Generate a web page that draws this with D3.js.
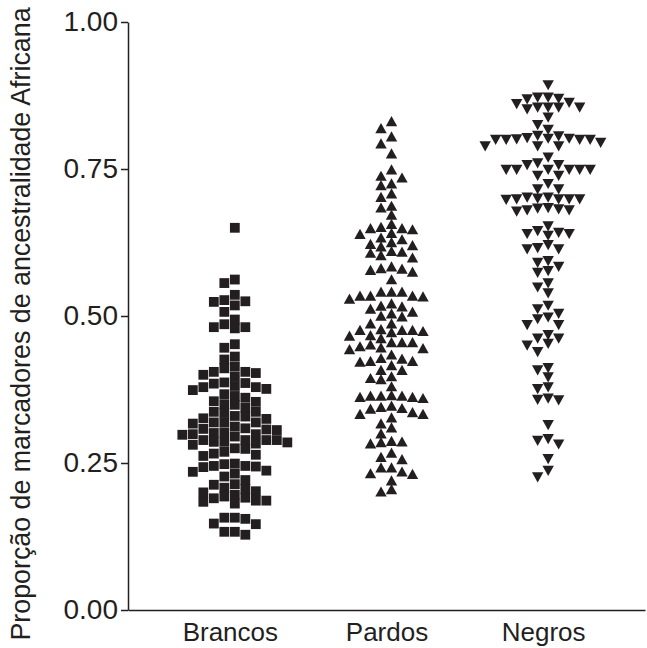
<!DOCTYPE html>
<html lang="pt">
<head>
<meta charset="UTF-8">
<title>Ancestralidade Africana</title>
<script src="https://cdn.jsdelivr.net/npm/d3@7"></script>
<style>
  body { margin: 0; background: #fff; }
  text { font-family: Arial, "Liberation Sans", sans-serif; fill: #231f20; }
</style>
</head>
<body>
<svg id="vis" width="647" height="648"></svg>
<script>
// valores
var categories = ["Brancos", "Pardos", "Negros"];
var yTicks = [0, 0.25, 0.5, 0.75, 1];
var yTitle = "Proporção de marcadores de ancestralidade Africana";

var brancos = [0.650, 0.562, 0.556, 0.536, 0.527, 0.525, 0.524, 0.518, 0.507, 0.494, 0.486, 0.481, 0.481, 0.479,
  0.452, 0.446, 0.431, 0.426,
  0.414, 0.411, 0.405, 0.405, 0.403, 0.400, 0.397,
  0.387, 0.386, 0.385, 0.381, 0.379, 0.379, 0.376, 0.374,
  0.367, 0.364, 0.361,
  0.355, 0.354, 0.350, 0.349, 0.344,
  0.337, 0.337, 0.335, 0.330, 0.329, 0.326, 0.325,
  0.319, 0.319, 0.319, 0.317, 0.312, 0.309, 0.308, 0.307, 0.306,
  0.302, 0.301, 0.299, 0.299, 0.298, 0.295,
  0.289, 0.289, 0.289, 0.289, 0.286, 0.286, 0.285, 0.283, 0.281, 0.275,
  0.274, 0.269, 0.266, 0.264, 0.262,
  0.249, 0.248, 0.245, 0.245, 0.244, 0.243, 0.237, 0.235, 0.232, 0.227,
  0.221, 0.214, 0.213, 0.208, 0.206, 0.202, 0.200, 0.186,
  0.196, 0.193, 0.191, 0.190, 0.186, 0.184, 0.181,
  0.157, 0.157, 0.155, 0.147, 0.146, 0.133, 0.133, 0.128];

var pardos = [0.830, 0.818, 0.804, 0.792, 0.775, 0.748, 0.737, 0.734, 0.724, 0.721, 0.707, 0.701, 0.686, 0.683,
  0.671, 0.655, 0.650, 0.648, 0.648, 0.646, 0.640, 0.638, 0.632, 0.629,
  0.624, 0.621, 0.619, 0.617, 0.609, 0.608, 0.606, 0.602, 0.598,
  0.583, 0.580, 0.579, 0.577, 0.574, 0.561,
  0.540, 0.540, 0.540, 0.533, 0.533, 0.533, 0.532, 0.528,
  0.520, 0.516, 0.515, 0.511, 0.506, 0.503, 0.499, 0.498,
  0.486, 0.486, 0.476, 0.475, 0.475, 0.475, 0.473, 0.471, 0.466, 0.465, 0.461,
  0.454, 0.454, 0.454, 0.450, 0.447, 0.445, 0.444, 0.442,
  0.433, 0.427, 0.426, 0.422, 0.422, 0.421, 0.415, 0.407, 0.407,
  0.396, 0.393, 0.391, 0.379,
  0.364, 0.363, 0.363, 0.363, 0.361, 0.361, 0.359,
  0.346, 0.344, 0.342, 0.341, 0.335, 0.332, 0.332, 0.326,
  0.316, 0.309, 0.299,
  0.286, 0.285, 0.284, 0.282, 0.266, 0.259, 0.255,
  0.241, 0.241, 0.234, 0.231, 0.230, 0.219,
  0.204, 0.200];

var negros = [0.894,
  0.873, 0.873, 0.871, 0.870, 0.864, 0.862,
  0.856, 0.856, 0.856, 0.856, 0.853,
  0.839, 0.826, 0.818,
  0.808, 0.807, 0.804, 0.803, 0.803, 0.802, 0.801, 0.801, 0.801, 0.801, 0.796, 0.790, 0.790, 0.790,
  0.771, 0.761, 0.758, 0.758,
  0.750, 0.750, 0.750, 0.750, 0.750, 0.750, 0.740, 0.740,
  0.726, 0.717, 0.717,
  0.703, 0.701, 0.700, 0.700, 0.699, 0.700, 0.700, 0.703,
  0.684, 0.681, 0.679, 0.681, 0.683, 0.685,
  0.654,
  0.643, 0.641, 0.638, 0.641, 0.646,
  0.617, 0.615, 0.615, 0.622,
  0.592, 0.585, 0.595,
  0.578, 0.575,
  0.557, 0.550, 0.540,
  0.519, 0.513, 0.505, 0.499, 0.496,
  0.486, 0.486,
  0.469, 0.463, 0.463, 0.454, 0.451, 0.440,
  0.413, 0.409, 0.397,
  0.380, 0.377,
  0.361, 0.359, 0.358,
  0.316,
  0.292, 0.289, 0.283,
  0.258, 0.238, 0.227];

var groups = [brancos, pardos, negros];

var svg = d3.select("#vis");
var ink = "#231f20";

var scaleY = d3.scaleLinear().domain([0, 1]).range([610, 22]);
var scaleX = d3.scalePoint().domain(categories).range([128, 645]).padding(0.65);

// eixo Y
var yAxis = d3.axisLeft(scaleY)
  .tickValues(yTicks)
  .tickFormat(d3.format(".2f"))
  .tickSize(7)
  .tickSizeOuter(0)
  .tickPadding(3);
var gy = svg.append("g").attr("transform", "translate(128,0)").call(yAxis);
gy.select(".domain").attr("stroke", ink).attr("stroke-width", 1.5);
gy.selectAll(".tick line").attr("stroke", ink).attr("stroke-width", 1.5);
gy.selectAll(".tick text").style("font-size", "28px").attr("fill", ink);

// eixo X
var xAxis = d3.axisBottom(scaleX).tickSize(0).tickSizeOuter(0).tickPadding(13);
var gx = svg.append("g").attr("transform", "translate(0,610)").call(xAxis);
gx.select(".domain").attr("stroke", ink).attr("stroke-width", 1.5);
gx.selectAll(".tick text").style("font-size", "26px").attr("fill", ink).attr("dy", "0.71em");

// título do eixo Y
svg.append("text")
  .attr("transform", "translate(30,324) rotate(-90)")
  .attr("text-anchor", "middle")
  .style("font-size", "26.8px")
  .text(yTitle);

// disposição em colunas (tipo "scatter dot plot")
var colStep = 10.5, minGap = 8.5, shift = 5;
function swarm(values, cx) {
  var placed = [];
  values.slice().sort(d3.descending).forEach(function (v) {
    var y = scaleY(v);
    for (var k = 0; ; k++) {
      var c = (k % 2 ? -1 : 1) * Math.ceil(k / 2);
      var ok = placed.every(function (p) { return p.c !== c || Math.abs(p.y - y) >= minGap; });
      if (ok) { placed.push({ c: c, y: y, v: v }); break; }
    }
  });
  placed.forEach(function (p) { p.x = cx + shift + p.c * colStep; });
  return placed;
}

var shapes = [
  "M-4.9,-4.9H4.9V4.9H-4.9Z",
  "M0,-6L5.7,4.2H-5.7Z",
  "M0,6L5.7,-4.2H-5.7Z"
];

groups.forEach(function (vals, i) {
  var pts = swarm(vals, scaleX(categories[i]));
  svg.append("g").selectAll("path")
    .data(pts)
    .join("path")
    .attr("d", shapes[i])
    .attr("fill", ink)
    .attr("transform", function (d) { return "translate(" + d.x + "," + d.y + ")"; });
});
</script>
</body>
</html>
